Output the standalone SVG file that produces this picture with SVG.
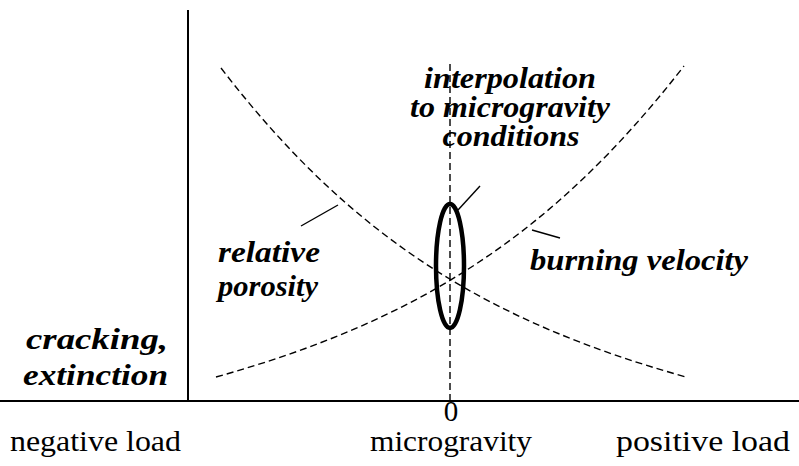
<svg xmlns="http://www.w3.org/2000/svg" width="799" height="466" viewBox="0 0 799 466">
<style>
.axis{stroke:#000;stroke-width:2;fill:none}
.curve{stroke:#000;stroke-width:1.4;fill:none;stroke-dasharray:7 4}
.tick{stroke:#000;stroke-width:1.4;fill:none}
.lbl{font-family:"Liberation Serif","Times New Roman",serif;font-weight:bold;font-style:italic;font-size:29px;fill:#000}
.reg{font-family:"Liberation Serif","Times New Roman",serif;font-size:29px;fill:#000}
</style>
<rect width="799" height="466" fill="#fff"/>
<g id="axes">
<line class="axis" x1="188" y1="10" x2="188" y2="401"/>
<line class="axis" x1="0" y1="401" x2="799" y2="401"/>
</g>
<g id="connectors">
<path id="porosity-curve" class="curve" d="M221,68 C351,237 486,321 686,377"/>
<path id="velocity-curve" class="curve" d="M216,377 C416,321 551,237 684,66"/>
<line id="zero-line" class="curve" x1="450" y1="64" x2="450" y2="401"/>
<line class="tick" x1="338" y1="205" x2="301" y2="226"/>
<line class="tick" x1="532" y1="230" x2="560" y2="238"/>
<line class="tick" x1="458" y1="210" x2="480" y2="186"/>
</g>
<g id="ellipse">
<ellipse cx="450" cy="266" rx="14" ry="62" fill="none" stroke="#000" stroke-width="4.5"/>
</g>
<g id="interpolation-label">
<text class="lbl" x="510" y="88" text-anchor="middle" textLength="172" lengthAdjust="spacingAndGlyphs">interpolation</text>
<text class="lbl" x="510" y="117" text-anchor="middle" textLength="200" lengthAdjust="spacingAndGlyphs">to microgravity</text>
<text class="lbl" x="511" y="146" text-anchor="middle" textLength="137" lengthAdjust="spacingAndGlyphs">conditions</text>
</g>
<g id="porosity-label">
<text class="lbl" x="218" y="262" textLength="102" lengthAdjust="spacingAndGlyphs">relative</text>
<text class="lbl" x="218" y="296" textLength="100" lengthAdjust="spacingAndGlyphs">porosity</text>
</g>
<g id="velocity-label">
<text class="lbl" x="530" y="270" textLength="218" lengthAdjust="spacingAndGlyphs">burning velocity</text>
</g>
<g id="cracking-label">
<text class="lbl" x="168" y="349" text-anchor="end" textLength="142" lengthAdjust="spacingAndGlyphs">cracking,</text>
<text class="lbl" x="168" y="385" text-anchor="end" textLength="145" lengthAdjust="spacingAndGlyphs">extinction</text>
</g>
<g id="x-labels">
<text class="reg" x="451" y="421" text-anchor="middle" font-size="26">0</text>
<text class="reg" x="10" y="451" textLength="171" lengthAdjust="spacingAndGlyphs">negative load</text>
<text class="reg" x="451" y="451" text-anchor="middle" textLength="162" lengthAdjust="spacingAndGlyphs">microgravity</text>
<text class="reg" x="790" y="451" text-anchor="end" textLength="174" lengthAdjust="spacingAndGlyphs">positive load</text>
</g>
</svg>
